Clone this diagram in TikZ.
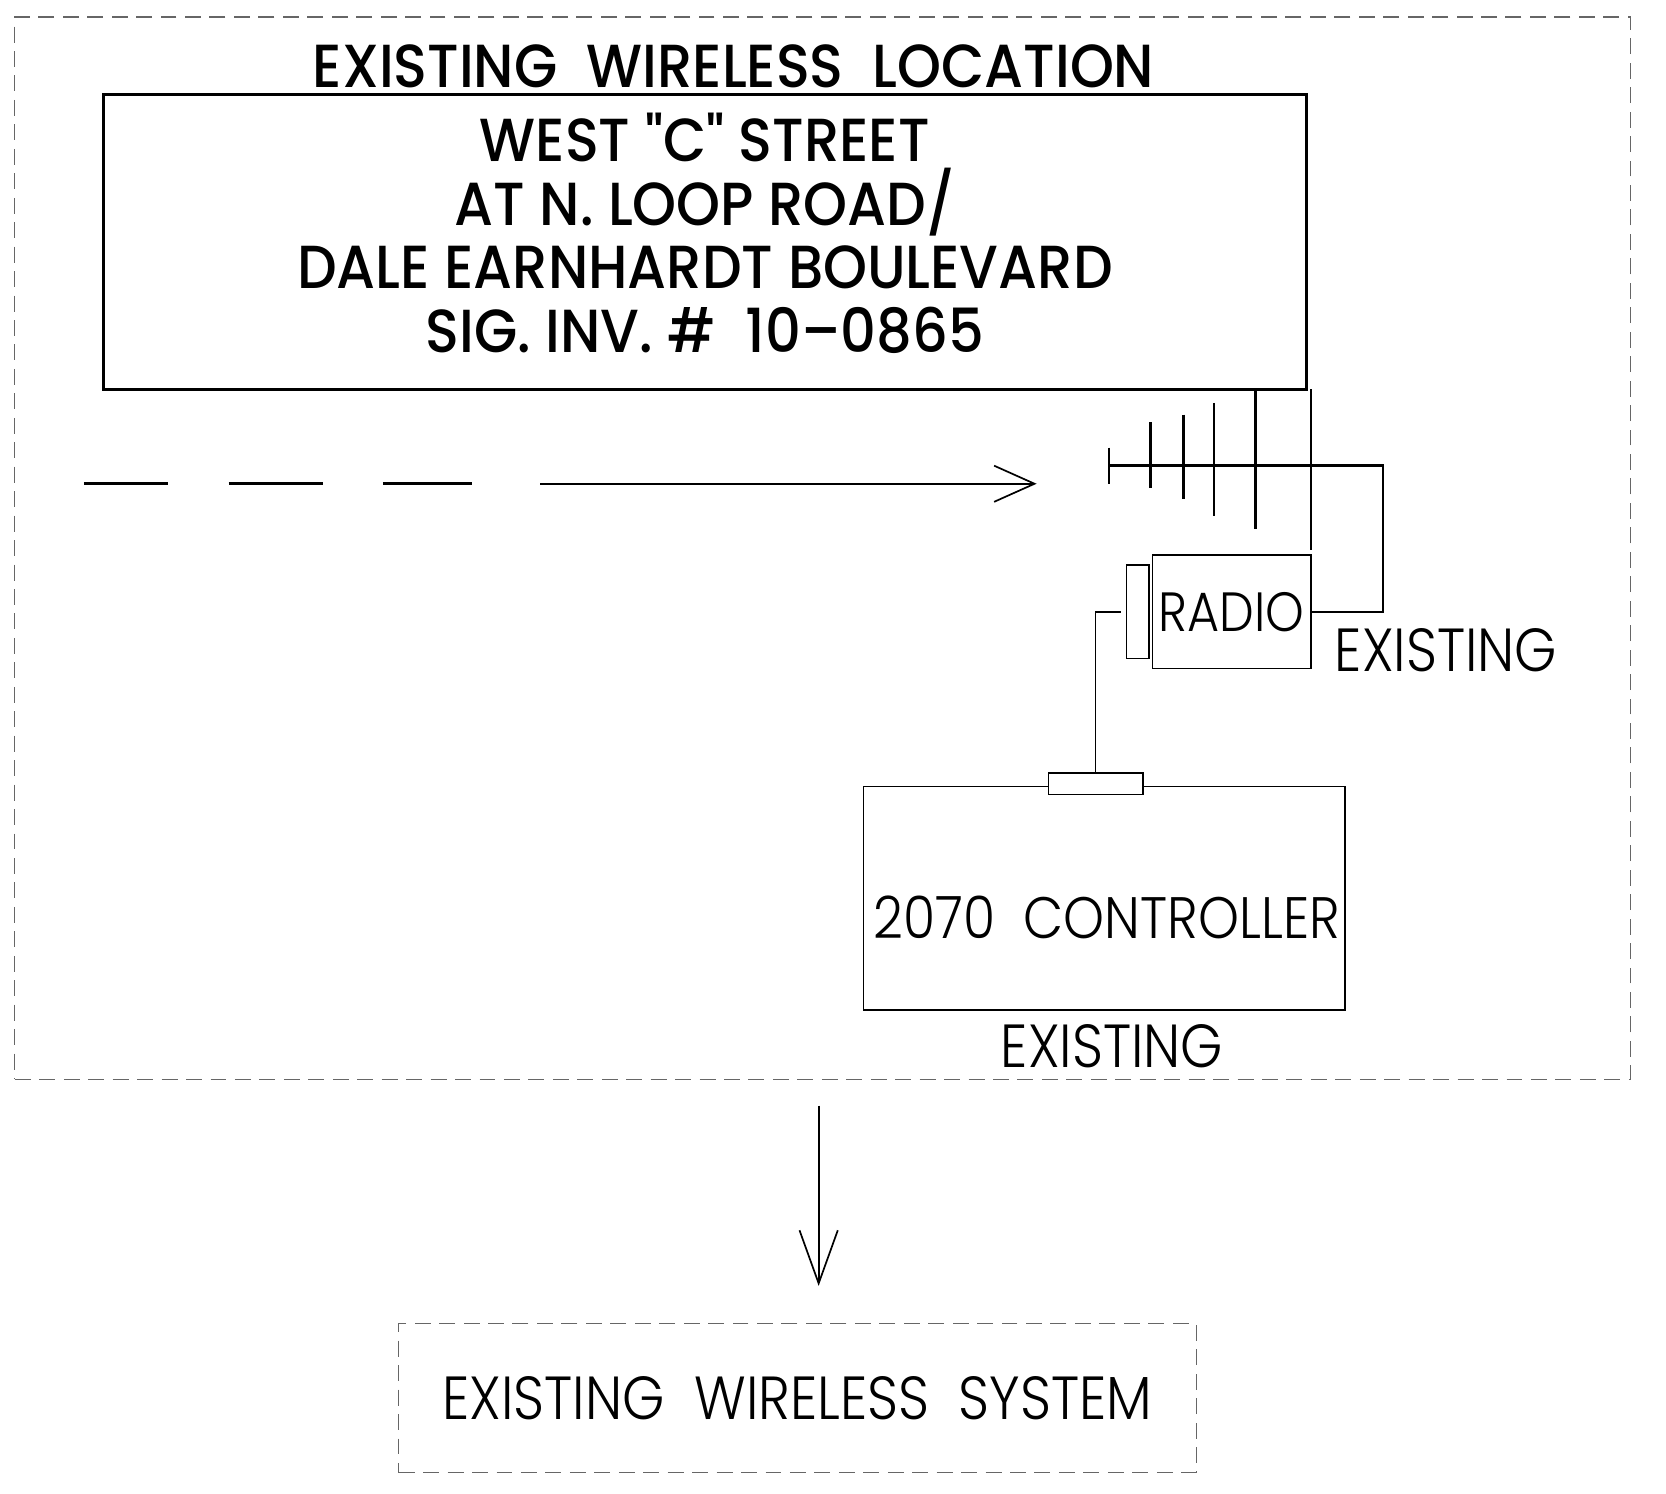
\documentclass[tikz,border=0pt]{standalone}
\usepackage{fontspec}
\usetikzlibrary{positioning, arrows.meta}
\newfontfamily\headfont{Poppins}[UprightFont = * Medium, FakeStretch = 0.92]
\newfontfamily\thinfont{Poppins}[UprightFont = * Light, FakeStretch = 0.89]
\tikzstyle{frame} = [rectangle, draw = gray!80!black, line width = 0.5pt, 
	dash pattern = on 7.5pt off 4pt]
\tikzstyle{unit} = [rectangle, draw = black, line width = 0.6pt, inner sep = 0pt]
\tikzstyle{heading} = [font = {\headfont\fontsize{28.6}{30}\selectfont}]
\tikzstyle{plain} = [font = {\thinfont\fontsize{28.6}{30}\selectfont}]
\tikzstyle{mast} = [line width = 1.2pt]
\tikzstyle{wire} = [line width = 0.6pt]
\tikzstyle{arrow} = [line width = 0.8pt, -{Straight Barb[length = 19pt, width = 17pt]}]

\begin{document}
\begin{tikzpicture}[x = 0.5pt, y = -0.5pt, node distance = 2pt]
\useasboundingbox (0,0) rectangle (1567,1404.3);

\node (site) [frame, minimum width = 760pt, minimum height = 499.5pt] at (774,515.5) {};

\node (title) [heading] at (690,62) {EXISTING~ WIRELESS~ LOCATION};

\node (sign) [rectangle, draw = black, line width = 1.5pt, 
	minimum width = 566pt, minimum height = 138.5pt] at (663,227.5) {};
\node (signtext) [heading, align = center] at ([yshift = 4pt]sign.center)
	{WEST "C" STREET\\AT N. LOOP ROAD/\\DALE EARNHARDT BOULEVARD\\SIG. INV. \#~ 10–0865};

\coordinate (feed) at (79,455);
\coordinate (feedend) at (508,455);
\coordinate (feedtip) at (975,455);
\draw [line width = 1.5pt, dash pattern = on 39.5pt off 28.5pt on 44.5pt off 28pt on 42pt off 32pt] 
	(feed) -- (feedend);
\draw [arrow] (feedend) -- (feedtip);

\node (radio) [unit, font = {\thinfont\fontsize{26}{28}\selectfont}, 
	minimum width = 74.5pt, minimum height = 53.5pt] at (1158.5,575.5) {RADIO};
\node (radioport) [unit, minimum width = 10.5pt, minimum height = 44pt, left = 1pt of radio] {};
\node (radiotag) [plain] at (1360,612) {EXISTING};

\coordinate (ant) at (1043,438);
\draw [mast] (1043,421) -- (1043,455);
\foreach \x/\a/\b in {1082/397/459, 1113/390/469, 1142/379/485, 1181/366/498, 1233/366/517}
	\draw [mast] (\x,\a) -- (\x,\b);
\draw [mast] (ant) -- ++(258,0) |- (radio.east);

\node (ctrl) [unit, minimum width = 226.5pt, minimum height = 105pt] at (1038.5,845) {};
\node (ctrlport) [unit, fill = white, minimum width = 44.5pt, minimum height = 10pt] at (1030.5,737) {};
\node (ctrltext) [plain, font = {\thinfont\fontsize{27.5}{29}\selectfont}] at (1041,863) {2070~ CONTROLLER};
\node (ctrltag) [plain] at (1046,984) {EXISTING};

\draw [wire] ([xshift = -2.5pt]radioport.west) -| (ctrlport.north);

\node (system) [frame, plain, minimum width = 375pt, minimum height = 70pt] at (750,1315) 
	{EXISTING~ WIRELESS~ SYSTEM};

\coordinate (uplink) at (770,1040);
\draw [line width = 0.8pt, -{Straight Barb[length = 25pt, width = 18pt]}] 
	(uplink) -- ([yshift = 17.5pt]uplink |- system.north);
\end{tikzpicture}
\end{document}
